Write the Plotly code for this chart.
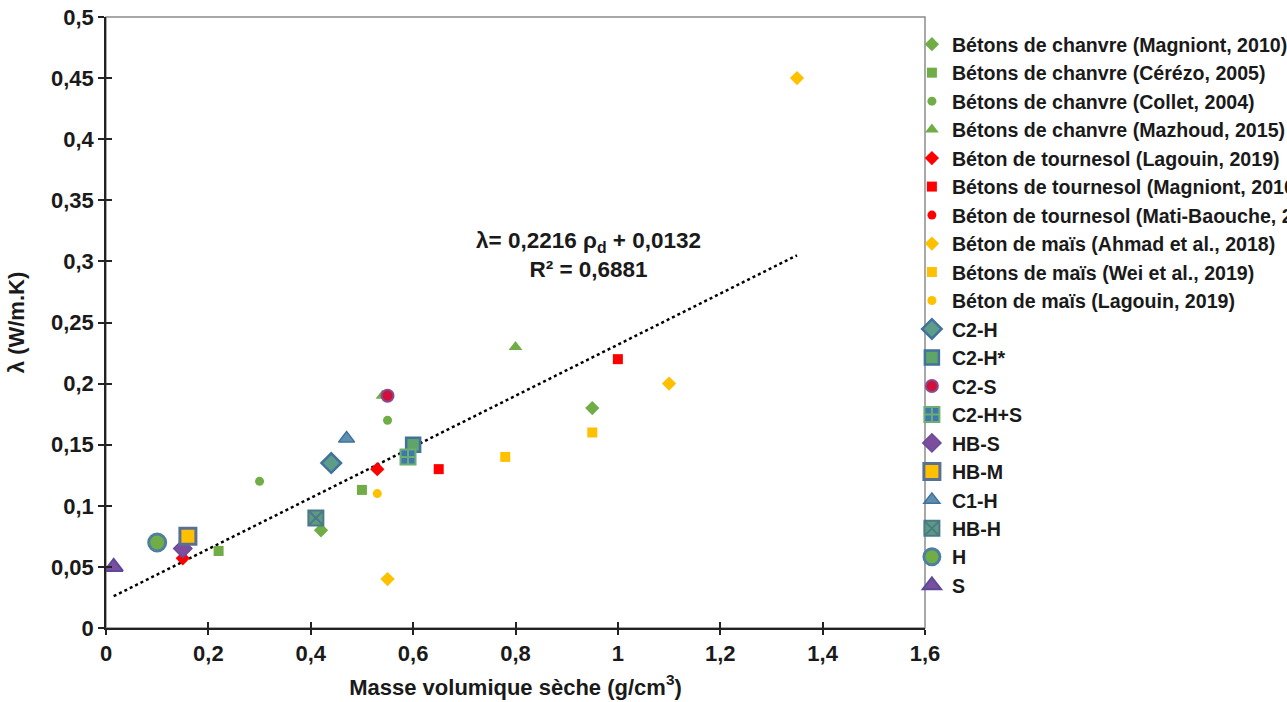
import plotly.graph_objects as go

# ---------------- data ----------------
# literature series
mag_chanvre_x = [0.42, 0.95]
mag_chanvre_y = [0.08, 0.18]
cerezo_x = [0.22, 0.50]
cerezo_y = [0.063, 0.113]
collet_x = [0.30, 0.55]
collet_y = [0.12, 0.17]
mazhoud_x = [0.54, 0.80]
mazhoud_y = [0.19, 0.23]
lag_tourn_x = [0.15, 0.53]
lag_tourn_y = [0.057, 0.13]
mag_tourn_x = [0.65, 1.00]
mag_tourn_y = [0.13, 0.22]
mati_x = [0.55]
mati_y = [0.19]
ahmad_x = [0.55, 1.10, 1.35]
ahmad_y = [0.04, 0.20, 0.45]
wei_x = [0.78, 0.95]
wei_y = [0.14, 0.16]
lag_mais_x = [0.53]
lag_mais_y = [0.11]
# own materials
c2h_x, c2h_y = [0.44], [0.135]
c2hs_x, c2hs_y = [0.60], [0.15]
c2s_x, c2s_y = [0.55], [0.19]
c2hps_x, c2hps_y = [0.59], [0.14]
hbs_x, hbs_y = [0.15], [0.065]
hbm_x, hbm_y = [0.16], [0.075]
c1h_x, c1h_y = [0.47], [0.155]
hbh_x, hbh_y = [0.41], [0.09]
h_x, h_y = [0.10], [0.07]
s_x, s_y = [0.015], [0.05]
# trend line (as drawn)
trend_x = [0.015, 1.35]
trend_y = [0.026, 0.305]

x_ticks = [0, 0.2, 0.4, 0.6, 0.8, 1.0, 1.2, 1.4, 1.6]
x_ticktext = ["0", "0,2", "0,4", "0,6", "0,8", "1", "1,2", "1,4", "1,6"]
y_ticks = [0, 0.05, 0.1, 0.15, 0.2, 0.25, 0.3, 0.35, 0.4, 0.45, 0.5]
y_ticktext = ["0", "0,05", "0,1", "0,15", "0,2", "0,25", "0,3", "0,35", "0,4", "0,45", "0,5"]

FONT = "Liberation Sans, Arial, sans-serif"
GREEN = "#70AD47"
RED = "#FF0000"
YELLOW = "#FFC000"
BLUE_EDGE = "#41719C"
PURPLE = "#7B4F9D"

series = [
    ("Bétons de chanvre (Magniont, 2010)", mag_chanvre_x, mag_chanvre_y, "diamond", GREEN, None, 0, 11),
    ("Bétons de chanvre (Cérézo, 2005)", cerezo_x, cerezo_y, "square", GREEN, None, 0, 10),
    ("Bétons de chanvre (Collet, 2004)", collet_x, collet_y, "circle", GREEN, None, 0, 9),
    ("Bétons de chanvre (Mazhoud, 2015)", mazhoud_x, mazhoud_y, "triangle-up", GREEN, None, 0, 12),
    ("Béton de tournesol (Lagouin, 2019)", lag_tourn_x, lag_tourn_y, "diamond", RED, None, 0, 11),
    ("Bétons de tournesol (Magniont, 2010)", mag_tourn_x, mag_tourn_y, "square", RED, None, 0, 10),
    ("Béton de tournesol (Mati-Baouche, 2014)", mati_x, mati_y, "circle", RED, None, 0, 9),
    ("Béton de maïs (Ahmad et al., 2018)", ahmad_x, ahmad_y, "diamond", YELLOW, None, 0, 11),
    ("Bétons de maïs (Wei et al., 2019)", wei_x, wei_y, "square", YELLOW, None, 0, 10),
    ("Béton de maïs (Lagouin, 2019)", lag_mais_x, lag_mais_y, "circle", YELLOW, None, 0, 9),
    ("C2-H", c2h_x, c2h_y, "diamond", "#5E9C8A", BLUE_EDGE, 2.5, 15),
    ("C2-H*", c2hs_x, c2hs_y, "square", "#5FA56A", BLUE_EDGE, 2.5, 14),
    ("C2-S", c2s_x, c2s_y, "circle", "#D0103A", "#8B4A8B", 2, 12),
    ("C2-H+S", c2hps_x, c2hps_y, "square-cross", "#3F78AE", "#6DAE72", 2, 15),
    ("HB-S", hbs_x, hbs_y, "diamond", PURPLE, "#6A4A9A", 1.5, 14),
    ("HB-M", hbm_x, hbm_y, "square", YELLOW, "#5A6F95", 3, 16),
    ("C1-H", c1h_x, c1h_y, "triangle-up", "#5F8FAE", BLUE_EDGE, 1.5, 14),
    ("HB-H", hbh_x, hbh_y, "square-x", "#5F9A80", "#4A7A8A", 2, 15),
    ("H", h_x, h_y, "circle", GREEN, "#4F7FA0", 3, 17),
    ("S", s_x, s_y, "triangle-up", PURPLE, "#5B4A9A", 2, 16),
]

fig = go.Figure()

fig.add_trace(go.Scatter(
    x=trend_x, y=trend_y, mode="lines",
    line=dict(color="black", width=2.5, dash="dot"),
    showlegend=False, hoverinfo="skip"))

for i, (name, xs, ys, sym, fill, edge, lw, size) in enumerate(series):
    fig.add_trace(go.Scatter(
        x=xs, y=ys, mode="markers", name=name, legendgroup=f"g{i}",
        marker=dict(symbol=sym, color=fill, size=size,
                    line=dict(color=edge if edge else fill, width=lw)),
    ))

# dummy trace for the overlay axes (inner half of crossing ticks)
fig.add_trace(go.Scatter(x=[None], y=[None], xaxis="x2", yaxis="y2",
                         showlegend=False, hoverinfo="skip"))

fig.add_annotation(
    x=0.942, y=0.305, xref="x", yref="y",
    text="λ= 0,2216 ρ<sub>d</sub> + 0,0132<br>R² = 0,6881",
    showarrow=False, align="center",
    font=dict(family=FONT, size=22.5, color="#1a1a1a", weight="bold"))

# grey frame on top/right
fig.add_shape(type="rect", xref="paper", yref="paper", x0=0, y0=0, x1=1, y1=1,
              line=dict(color="#8c8c8c", width=1.5), layer="below")

tickfont = dict(family=FONT, size=22, color="#1a1a1a", weight="bold")
fig.update_layout(
    width=1287, height=702,
    paper_bgcolor="white", plot_bgcolor="white",
    margin=dict(l=106, r=362, t=17, b=74, autoexpand=False),
    font=dict(family=FONT, color="#1a1a1a"),
    xaxis=dict(range=[0, 1.6], tickvals=x_ticks, ticktext=x_ticktext,
               showgrid=False, zeroline=False, showline=True, linecolor="#222", linewidth=1.5,
               ticks="outside", ticklen=5, tickwidth=1.5, tickcolor="#222",
               tickfont=tickfont,
               title=dict(text="Masse volumique sèche (g/cm<sup>3</sup>)", standoff=14,
                          font=dict(family=FONT, size=22, color="#1a1a1a", weight="bold"))),
    yaxis=dict(range=[0, 0.5], tickvals=y_ticks, ticktext=y_ticktext,
               showgrid=False, zeroline=False, showline=True, linecolor="#222", linewidth=1.5,
               ticks="outside", ticklen=6, tickwidth=1.5, tickcolor="#222",
               tickfont=tickfont,
               title=dict(text="λ (W/m.K)", standoff=20,
                          font=dict(family=FONT, size=22, color="#1a1a1a", weight="bold"))),
    xaxis2=dict(overlaying="x", matches="x", anchor="y2", range=[0, 1.6], tickvals=x_ticks,
                showticklabels=False, showgrid=False, zeroline=False, showline=False,
                ticks="inside", ticklen=6, tickwidth=1.5, tickcolor="#222", side="bottom"),
    yaxis2=dict(overlaying="y", matches="y", anchor="x2", range=[0, 0.5], tickvals=y_ticks,
                showticklabels=False, showgrid=False, zeroline=False, showline=False,
                ticks="inside", ticklen=6, tickwidth=1.5, tickcolor="#222", side="left"),
    legend=dict(x=0.984, y=0.987, xanchor="left", yanchor="top",
                bgcolor="rgba(0,0,0,0)", borderwidth=0,
                font=dict(family=FONT, size=19.6, color="#1a1a1a", weight="bold"),
                traceorder="normal"),
)

fig.write_html("out.html", config={"displayModeBar": False},
               post_script="document.body.style.margin='0';document.body.style.overflow='hidden';")
